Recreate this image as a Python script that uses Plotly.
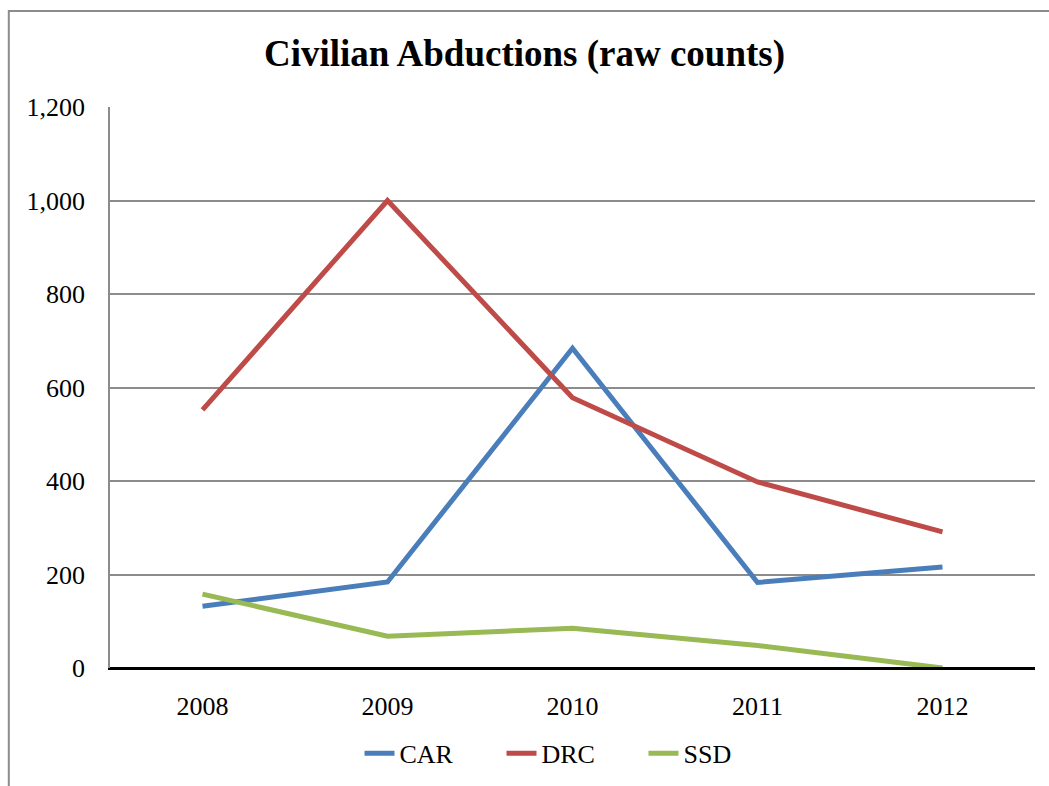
import plotly.graph_objects as go

years = ["2008", "2009", "2010", "2011", "2012"]
car = [132, 184, 684, 183, 216]
drc = [552, 1000, 578, 398, 291]
ssd = [158, 68, 85, 48, 0]

series = [("CAR", car, "#4A7EBB"), ("DRC", drc, "#BE4B48"), ("SSD", ssd, "#98B954")]

fig = go.Figure()
for name, vals, col in series:
    fig.add_trace(go.Scatter(x=years, y=vals, name=name, mode="lines",
                             line=dict(color=col, width=5)))

serif = "Liberation Serif, Times New Roman, serif"

fig.update_layout(
    width=1049, height=786,
    margin=dict(l=110, r=14, t=107, b=118, autoexpand=False),
    paper_bgcolor="white", plot_bgcolor="white",
    font=dict(family=serif, size=25, color="black"),
    title=dict(text="<b>Civilian Abductions (raw counts)</b>", x=0.5, xanchor="center",
               y=1 - 53 / 786, yanchor="middle",
               font=dict(family=serif, size=37, color="black")),
    showlegend=True,
    legend=dict(orientation="h", x=0.5, xanchor="center", y=-0.152, yanchor="middle",
                font=dict(family=serif, size=26), entrywidth=97, entrywidthmode="pixels",
                itemwidth=30, tracegroupgap=0),
    xaxis=dict(type="category", range=[-0.5, 4.5], showgrid=False, showline=True,
               linecolor="black", linewidth=2, ticks="", ticklabelstandoff=14,
               tickfont=dict(family=serif, size=26), zeroline=False),
    yaxis=dict(range=[0, 1200], dtick=200, tickformat=",d", showgrid=True,
               gridcolor="#8C8C8C", gridwidth=1.5, showline=True, linecolor="#8C8C8C",
               linewidth=1.5, ticks="", ticklabelstandoff=18, zeroline=False,
               tickfont=dict(family=serif, size=26)),
    shapes=[dict(type="rect", xref="paper", yref="paper",
                 x0=-0.1094, x1=1.2, y0=-0.3, y1=1.171,
                 line=dict(color="#8C8C8C", width=2), fillcolor="rgba(0,0,0,0)",
                 layer="below")],
)
fig.add_shape(type="line", xref="paper", yref="y", x0=0, x1=1, y0=0, y1=0,
              line=dict(color="black", width=2))

fig.write_html("out.html")
